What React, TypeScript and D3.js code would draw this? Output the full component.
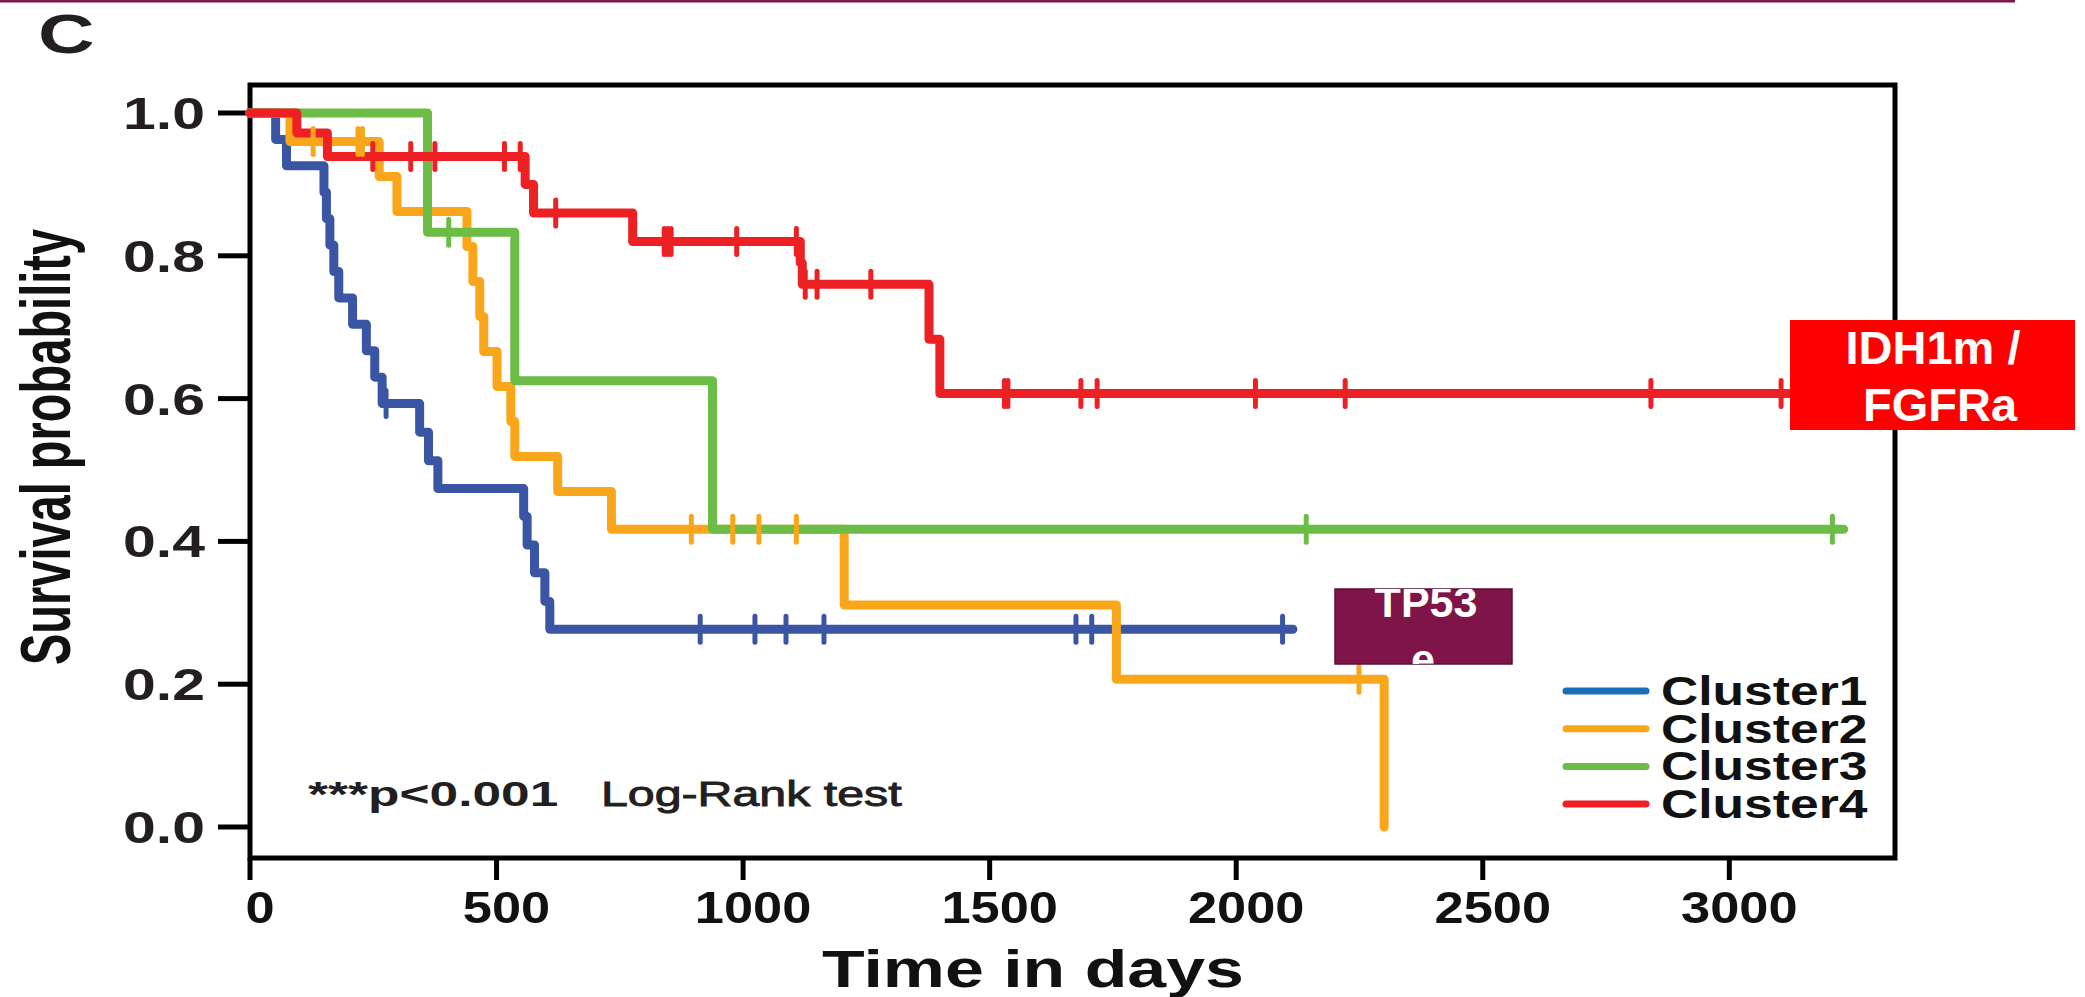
import React from "react";
import * as d3 from "d3";

// survival data: [day, survival after the event]
const clusterNames = ["Cluster1", "Cluster2", "Cluster3", "Cluster4"];

const cluster1Steps: [number, number][] = [
  [52, 0.963], [74, 0.926], [150, 0.889], [155, 0.852], [162, 0.815],
  [170, 0.778], [180, 0.741], [208, 0.704], [236, 0.667], [253, 0.63],
  [268, 0.593], [344, 0.553], [362, 0.513], [381, 0.474], [555, 0.435],
  [562, 0.395], [577, 0.356], [598, 0.316], [608, 0.277],
];
const cluster1Censored = [276, 913, 1024, 1087, 1164, 1675, 1707, 2094];
const cluster1LastDay = 2115;

const cluster2Steps: [number, number][] = [
  [81, 0.96], [262, 0.911], [298, 0.862], [440, 0.813], [452, 0.764],
  [466, 0.715], [474, 0.666], [501, 0.617], [529, 0.568], [537, 0.519],
  [624, 0.47], [733, 0.417], [1205, 0.311], [1757, 0.207], [2300, 0],
];
const cluster2Censored = [128, 219, 228, 895, 979, 1032, 1108, 2249];
const cluster2LastDay = 2300;

const cluster3Steps: [number, number][] = [[360, 0.833], [537, 0.625], [938, 0.417]];
const cluster3Censored = [403, 2142, 3209];
const cluster3LastDay = 3232;

const cluster4Steps: [number, number][] = [
  [95, 0.972], [157, 0.939], [558, 0.9], [575, 0.86], [776, 0.82],
  [1116, 0.79], [1120, 0.76], [1377, 0.683], [1399, 0.607],
];
const cluster4Censored = [
  249, 326, 375, 516, 548, 620, 840, 847, 854, 987, 1108, 1126, 1150,
  1259, 1530, 1537, 1685, 1718, 2039, 2221, 2841, 3105,
];
const cluster4LastDay = 3130;

const xTicks = [0, 500, 1000, 1500, 2000, 2500, 3000];
const yTicks = [0, 0.2, 0.4, 0.6, 0.8, 1.0];

const lineColors = ["#3b55a5", "#faa61a", "#6bbd45", "#ed2124"];
const legendColors = ["#1b6eb6", "#faa61a", "#6bbd45", "#ed2124"];

const FONT = "'Liberation Sans', Arial, Helvetica, sans-serif";

const series = [
  { steps: cluster1Steps, censored: cluster1Censored, last: cluster1LastDay },
  { steps: cluster2Steps, censored: cluster2Censored, last: cluster2LastDay },
  { steps: cluster3Steps, censored: cluster3Censored, last: cluster3LastDay },
  { steps: cluster4Steps, censored: cluster4Censored, last: cluster4LastDay },
];

const frame = { left: 250, right: 1895, top: 85, bottom: 858 };
const x = d3.scaleLinear().domain([0, 3336]).range([frame.left, frame.right]);
const y = d3.scaleLinear().domain([0, 1]).range([827, 113]);

const line = d3
  .line<[number, number]>()
  .x((d) => x(d[0]))
  .y((d) => y(d[1]))
  .curve(d3.curveStepAfter);

function levelAt(steps: [number, number][], t: number) {
  let s = 1;
  steps.forEach((d) => {
    if (d[0] <= t) s = d[1];
  });
  return s;
}

// stretched text: the source figure is squeezed wider than normal type
function SText(props: any) {
  const { x: tx, y: ty, sx = 1, anchor = "start", size, weight = "bold", fill = "#111", children, ...rest } = props;
  return (
    <text
      transform={`translate(${tx},${ty}) scale(${sx},1)`}
      textAnchor={anchor}
      fontSize={size}
      fontWeight={weight}
      fill={fill}
      fontFamily={FONT}
      {...rest}
    >
      {children}
    </text>
  );
}

const App = () => {
  const paths = series.map((s) => {
    const pts: [number, number][] = [[0, 1], ...s.steps];
    pts.push([s.last, s.steps[s.steps.length - 1][1]]);
    return line(pts) as string;
  });

  return (
    <svg
      width={2085}
      height={997}
      style={{ position: "absolute", left: 0, top: 0, background: "#fff" }}
    >
      <rect x={0} y={0} width={2085} height={997} fill="#fff" />
      <rect x={0} y={0} width={2015} height={2.5} fill="#7b1a48" />

      <SText x={38} y={53} sx={1.4} size={56} fill="#231f20">C</SText>

      {/* frame */}
      <rect
        x={frame.left}
        y={frame.top}
        width={frame.right - frame.left}
        height={frame.bottom - frame.top}
        fill="none"
        stroke="#000"
        strokeWidth={5}
      />

      {/* y axis */}
      {yTicks.map((t) => (
        <g key={"y" + t}>
          <line x1={218} x2={frame.left} y1={y(t)} y2={y(t)} stroke="#000" strokeWidth={5} />
          <SText x={205} y={y(t) + 16} sx={1.34} size={44} anchor="end" fill="#231f20">
            {t.toFixed(1)}
          </SText>
        </g>
      ))}
      <text
        transform="translate(70,447) scale(1.5,1) rotate(-90)"
        textAnchor="middle"
        fontSize={47}
        fontWeight="bold"
        fontFamily={FONT}
        fill="#111"
      >
        Survival probability
      </text>

      {/* x axis */}
      {xTicks.map((t) => (
        <g key={"x" + t}>
          <line x1={x(t)} x2={x(t)} y1={frame.bottom} y2={880} stroke="#000" strokeWidth={5} />
          <SText x={x(t) + 10} y={923} sx={1.19} size={44} anchor="middle">
            {t}
          </SText>
        </g>
      ))}
      <SText x={822} y={987} sx={1.37} size={51}>Time in days</SText>

      {/* curves */}
      {paths.map((d, i) => (
        <path
          key={"p" + i}
          d={d}
          fill="none"
          stroke={lineColors[i]}
          strokeWidth={9}
          strokeLinejoin="round"
          strokeLinecap="round"
        />
      ))}
      {series.map((s, i) =>
        s.censored.map((t, j) => {
          const cy = y(levelAt(s.steps, t));
          return (
            <line
              key={"c" + i + "-" + j}
              x1={x(t)}
              x2={x(t)}
              y1={cy - 13}
              y2={cy + 13}
              stroke={lineColors[i]}
              strokeWidth={5}
              strokeLinecap="round"
            />
          );
        })
      )}

      {/* test annotation */}
      <SText x={308} y={806} sx={1.47} size={35} fill="#231f20">***p&lt;0.001</SText>
      <SText x={601} y={806} sx={1.38} size={35} weight="normal" fill="#231f20" stroke="#231f20" strokeWidth={0.9}>
        Log-Rank test
      </SText>

      {/* legend */}
      {clusterNames.map((n, i) => {
        const by = 705 + i * 37.7;
        return (
          <g key={n}>
            <line x1={1566} x2={1646} y1={by - 14} y2={by - 14} stroke={legendColors[i]} strokeWidth={7} strokeLinecap="round" />
            <SText x={1661} y={by} sx={1.29} size={40}>{n}</SText>
          </g>
        );
      })}

      {/* overlay labels */}
      <defs>
        <clipPath id="tp53clip">
          <rect x={1335} y={589} width={177} height={75} />
        </clipPath>
      </defs>
      <rect x={1335} y={589} width={177} height={75} fill="#7f1449" stroke="#5e0d33" strokeWidth={1.5} />
      <g clipPath="url(#tp53clip)">
        <SText x={1426} y={617} size={43} anchor="middle" fill="#fff">TP53</SText>
        <SText x={1423} y={674} size={43} anchor="middle" fill="#fff">e</SText>
      </g>

      <rect x={1790} y={320} width={285} height={110} fill="#ff0000" />
      <SText x={1933} y={364} size={47} anchor="middle" fill="#fff">IDH1m /</SText>
      <SText x={1940} y={421} size={47} anchor="middle" fill="#fff">FGFRa</SText>
    </svg>
  );
};

export default App;
